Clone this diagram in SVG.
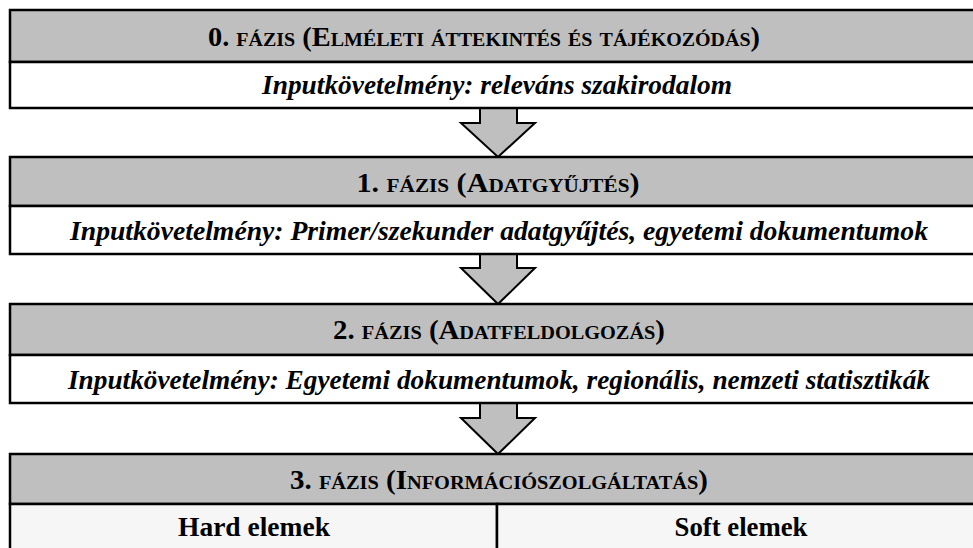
<svg xmlns="http://www.w3.org/2000/svg" width="973" height="548" viewBox="0 0 973 548">
<style>
.hdr{fill:#bfbfbf;stroke:#000;stroke-width:2.5}
.row{fill:#fff;stroke:#000;stroke-width:2.5}
.row3{fill:#f6f6f6;stroke:#000;stroke-width:2.5}
.arrow{fill:#bfbfbf;stroke:#000;stroke-width:2;stroke-linejoin:miter}
.t{font-family:"Liberation Serif","Times New Roman",serif;font-weight:bold;fill:#000;text-anchor:middle}
.h{font-size:27px}
.sc{font-variant:small-caps}
.i{font-size:27px;font-style:italic}
</style>
<g id="connectors">
<path class="arrow" d="M480,108 L517,108 L517,123 L535,123 L498,157 L461,123 L480,123 Z"/>
<path class="arrow" d="M480,254 L517,254 L517,268 L535,268 L498,304 L461,268 L480,268 Z"/>
<path class="arrow" d="M480,403 L517,403 L517,418 L535,418 L498,454 L461,418 L480,418 Z"/>
</g>
<g id="phase0">
<rect class="hdr" x="10" y="10" width="975" height="52"/>
<rect class="row" x="10" y="62" width="975" height="46"/>
<text class="t h" x="484" y="46" textLength="552" lengthAdjust="spacingAndGlyphs">0. <tspan class="sc">fázis (Elméleti áttekintés és tájékozódás)</tspan></text>
<text class="t i" x="497" y="94" textLength="470" lengthAdjust="spacingAndGlyphs">Inputkövetelmény: releváns szakirodalom</text>
</g>
<g id="phase1">
<rect class="hdr" x="10" y="157" width="975" height="49"/>
<rect class="row" x="10" y="206" width="975" height="48"/>
<text class="t h" x="498" y="192" textLength="283" lengthAdjust="spacingAndGlyphs">1. <tspan class="sc">fázis (Adatgyűjtés)</tspan></text>
<text class="t i" x="499" y="240" textLength="858" lengthAdjust="spacingAndGlyphs">Inputkövetelmény: Primer/szekunder adatgyűjtés, egyetemi dokumentumok</text>
</g>
<g id="phase2">
<rect class="hdr" x="10" y="304" width="975" height="51"/>
<rect class="row" x="10" y="355" width="975" height="48"/>
<text class="t h" x="499" y="339" textLength="332" lengthAdjust="spacingAndGlyphs">2. <tspan class="sc">fázis (Adatfeldolgozás)</tspan></text>
<text class="t i" x="499" y="389" textLength="862" lengthAdjust="spacingAndGlyphs">Inputkövetelmény: Egyetemi dokumentumok, regionális, nemzeti statisztikák</text>
</g>
<g id="phase3">
<rect class="hdr" x="10" y="454" width="975" height="50"/>
<rect class="row3" x="10" y="504" width="487" height="60"/>
<rect class="row3" x="497" y="504" width="488" height="60"/>
<text class="t h" x="499" y="489" textLength="418" lengthAdjust="spacingAndGlyphs">3. <tspan class="sc">fázis (Információszolgáltatás)</tspan></text>
<text class="t h" x="254" y="536" textLength="152" lengthAdjust="spacingAndGlyphs">Hard elemek</text>
<text class="t h" x="741" y="536" textLength="133" lengthAdjust="spacingAndGlyphs">Soft elemek</text>
</g>
</svg>
